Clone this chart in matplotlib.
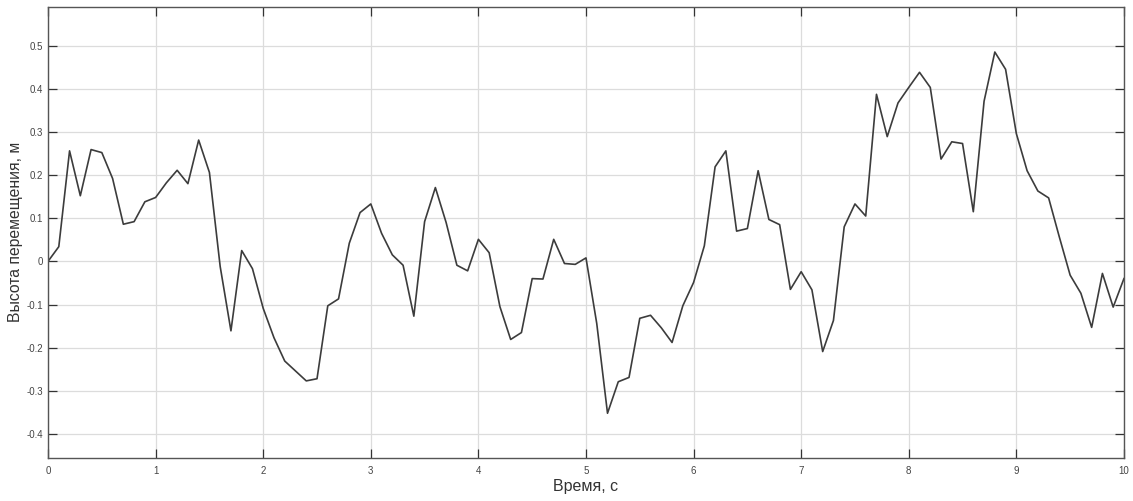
import numpy as np
import matplotlib
matplotlib.use("Agg")
import matplotlib.pyplot as plt

plt.rcParams['font.family'] = ['Liberation Sans', 'DejaVu Sans']

t = [round(0.1 * i, 1) for i in range(101)]
height = [
    0.000, 0.034, 0.256, 0.152, 0.259, 0.252, 0.192, 0.086, 0.092, 0.138,
    0.148, 0.182, 0.211, 0.180, 0.281, 0.206, -0.012, -0.161, 0.025, -0.017,
    -0.109, -0.177, -0.231, -0.254, -0.277, -0.272, -0.103, -0.087, 0.042, 0.113,
    0.133, 0.065, 0.015, -0.009, -0.127, 0.092, 0.171, 0.090, -0.009, -0.022,
    0.051, 0.020, -0.105, -0.181, -0.165, -0.040, -0.041, 0.051, -0.005, -0.007,
    0.008, -0.144, -0.352, -0.279, -0.269, -0.132, -0.125, -0.154, -0.188, -0.103,
    -0.049, 0.036, 0.219, 0.256, 0.070, 0.076, 0.210, 0.097, 0.085, -0.065,
    -0.024, -0.066, -0.209, -0.137, 0.080, 0.133, 0.105, 0.387, 0.289, 0.367,
    0.403, 0.438, 0.403, 0.237, 0.277, 0.273, 0.115, 0.371, 0.485, 0.445,
    0.296, 0.210, 0.163, 0.147, 0.056, -0.032, -0.074, -0.153, -0.028, -0.106,
    -0.040,
]
x_ticks = list(range(0, 11))
y_ticks = [-0.4, -0.3, -0.2, -0.1, 0, 0.1, 0.2, 0.3, 0.4, 0.5]
y_tick_labels = ['-0.4', '-0.3', '-0.2', '-0.1', '0', '0.1', '0.2', '0.3', '0.4', '0.5']

fig = plt.figure(figsize=(11.33, 5.01), dpi=100)
ax = fig.add_axes([0.0424, 0.0864, 0.9496, 0.9002])
ax.plot(t, height, color='#3c3c3c', linewidth=1.2)
ax.set_xlim(0, 10)
ax.set_ylim(-0.455, 0.59)
ax.set_xticks(x_ticks)
ax.set_xticklabels([str(v) for v in x_ticks])
ax.set_yticks(y_ticks)
ax.set_yticklabels(y_tick_labels)
ax.grid(True, color='#dcdcdc', linewidth=0.9)
ax.set_axisbelow(True)
ax.tick_params(direction='in', length=6.5, width=0.9, color='#333333',
               labelsize=7, labelcolor='#444444', top=True, right=True)
ax.tick_params(axis='x', pad=6)
ax.tick_params(axis='y', pad=3.5)
for s in ax.spines.values():
    s.set_color('#555555')
    s.set_linewidth(1.0)
ax.set_xlabel('Время, с', fontsize=11.5, color='#333333', labelpad=2)
ax.set_ylabel('Высота перемещения, м', fontsize=11.3, color='#333333', labelpad=2.5)
fig.savefig('out.png', dpi=100)
